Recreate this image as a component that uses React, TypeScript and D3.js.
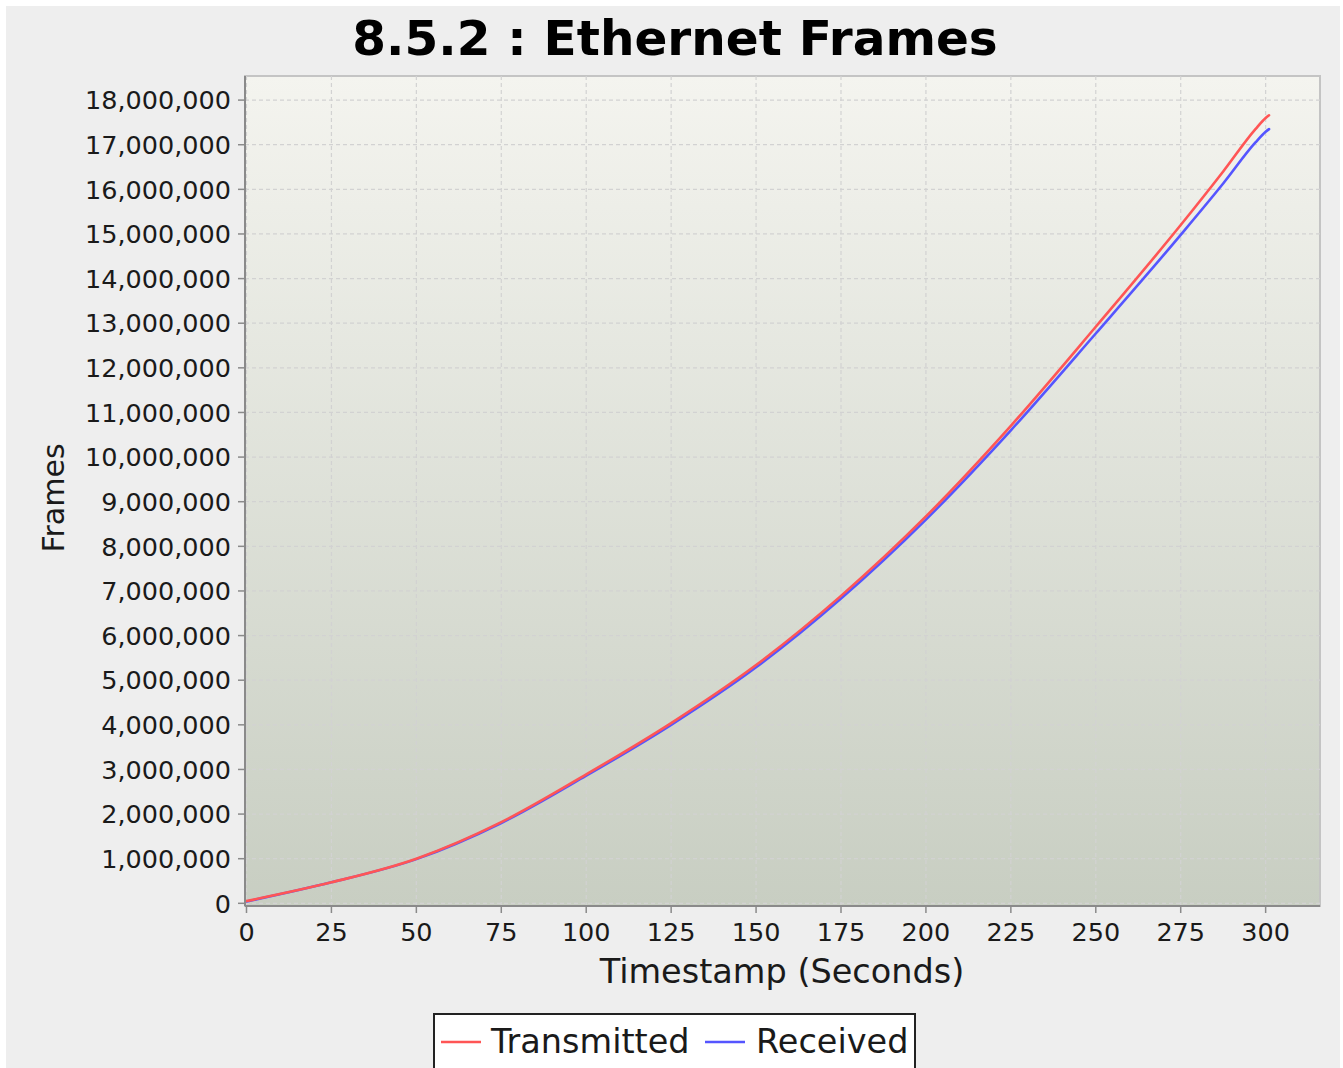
import React from "react";
import * as d3 from "d3";

const TITLE = "8.5.2 : Ethernet Frames";
const X_LABEL = "Timestamp (Seconds)";
const Y_LABEL = "Frames";
const SERIES_NAMES = ["Transmitted", "Received"];
const SERIES_COLORS = ["#ff5555", "#5555ff"];

const timestamps = [0, 25, 50, 75, 100, 125, 150, 175, 200, 225, 250, 275, 287.5, 297, 300, 301];
const transmitted = [0.05, 0.47, 1.0, 1.82, 2.89, 4.04, 5.34, 6.89, 8.67, 10.7, 12.92, 15.2, 16.4, 17.35, 17.6, 17.66].map((v) => v * 1e6);
const received = [0.04, 0.47, 0.99, 1.8, 2.86, 4.0, 5.29, 6.83, 8.6, 10.6, 12.77, 14.98, 16.13, 17.05, 17.29, 17.35].map((v) => v * 1e6);

const xTicks = [0, 25, 50, 75, 100, 125, 150, 175, 200, 225, 250, 275, 300];
const yTicks = d3.range(0, 18000001, 1000000);

const W = 1343;
const H = 1068;
const plot = { left: 245, right: 1320, top: 76, bottom: 906 };
const FONT = "'DejaVu Sans', Verdana, sans-serif";

export default function App() {
  const x = d3.scaleLinear().domain([-0.44, 316]).range([plot.left, plot.right]);
  const y = d3.scaleLinear().domain([-0.06e6, 18.54e6]).range([plot.bottom, plot.top]);
  const fmt = d3.format(",");
  const line = d3
    .line<number>()
    .x((_, i) => x(timestamps[i]))
    .y((d) => y(d))
    .curve(d3.curveMonotoneX);
  const series = [received, transmitted];
  const colors = [SERIES_COLORS[1], SERIES_COLORS[0]];

  return (
    <div style={{ position: "absolute", left: 0, top: 0 }}>
      <svg width={W} height={H} style={{ display: "block" }}>
        <defs>
          <linearGradient id="bg" x1="0" y1="0" x2="0" y2="1">
            <stop offset="0" stopColor="#f4f4ef" />
            <stop offset="1" stopColor="#c8cec2" />
          </linearGradient>
          <clipPath id="clip">
            <rect x={plot.left} y={plot.top} width={plot.right - plot.left} height={plot.bottom - plot.top} />
          </clipPath>
        </defs>
        <rect x={0} y={0} width={W} height={H} fill="#ffffff" />
        <rect x={6} y={6} width={1334} height={H} fill="#eeeeee" />
        <text x={675} y={55} textAnchor="middle" fontFamily={FONT} fontWeight="bold" fontSize={48.5} fill="#000">
          {TITLE}
        </text>
        <rect x={plot.left} y={plot.top} width={plot.right - plot.left} height={plot.bottom - plot.top} fill="url(#bg)" stroke="#c4c4c4" strokeWidth={2} />
        {/* grid */}
        <g stroke="#d2d2d2" strokeWidth={1.2} strokeDasharray="4,3">
          {xTicks.map((t) => (
            <line key={"gx" + t} x1={x(t)} x2={x(t)} y1={plot.top} y2={plot.bottom} />
          ))}
          {yTicks.map((t) => (
            <line key={"gy" + t} x1={plot.left} x2={plot.right} y1={y(t)} y2={y(t)} />
          ))}
        </g>
        {/* series */}
        <g clipPath="url(#clip)" fill="none" strokeWidth={2.6} strokeLinejoin="round" strokeLinecap="round">
          {series.map((s, i) => (
            <path key={i} d={line(s) || ""} stroke={colors[i]} />
          ))}
        </g>
        {/* axes */}
        <line x1={plot.left} x2={plot.left} y1={plot.top} y2={plot.bottom} stroke="#8a8a8a" strokeWidth={2} />
        <line x1={plot.left} x2={plot.right} y1={plot.bottom} y2={plot.bottom} stroke="#8a8a8a" strokeWidth={2} />
        <g stroke="#8a8a8a" strokeWidth={1.5}>
          {yTicks.map((t) => (
            <line key={"ty" + t} x1={plot.left - 7} x2={plot.left} y1={y(t)} y2={y(t)} />
          ))}
          {xTicks.map((t) => (
            <line key={"tx" + t} x1={x(t)} x2={x(t)} y1={plot.bottom} y2={plot.bottom + 7} />
          ))}
        </g>
        <g fontFamily={FONT} fontSize={25.5} fill="#1a1a1a">
          {yTicks.map((t) => (
            <text key={"ly" + t} x={231} y={y(t)} dy="0.36em" textAnchor="end">
              {fmt(t)}
            </text>
          ))}
          {xTicks.map((t) => (
            <text key={"lx" + t} x={x(t)} y={941} textAnchor="middle">
              {t}
            </text>
          ))}
        </g>
        <text x={782} y={983} textAnchor="middle" fontFamily={FONT} fontSize={33.5} fill="#1a1a1a">
          {X_LABEL}
        </text>
        <text transform="translate(64,498) rotate(-90)" textAnchor="middle" fontFamily={FONT} fontSize={30} fill="#1a1a1a">
          {Y_LABEL}
        </text>
        {/* legend */}
        <rect x={434} y={1014} width={481} height={70} fill="#ffffff" stroke="#222" strokeWidth={2} />
        <line x1={441} x2={481} y1={1042} y2={1042} stroke={SERIES_COLORS[0]} strokeWidth={2.5} />
        <text x={491} y={1053} fontFamily={FONT} fontSize={33.5} fill="#1a1a1a">
          {SERIES_NAMES[0]}
        </text>
        <line x1={705} x2={745} y1={1042} y2={1042} stroke={SERIES_COLORS[1]} strokeWidth={2.5} />
        <text x={756} y={1053} fontFamily={FONT} fontSize={33.5} fill="#1a1a1a">
          {SERIES_NAMES[1]}
        </text>
      </svg>
    </div>
  );
}
